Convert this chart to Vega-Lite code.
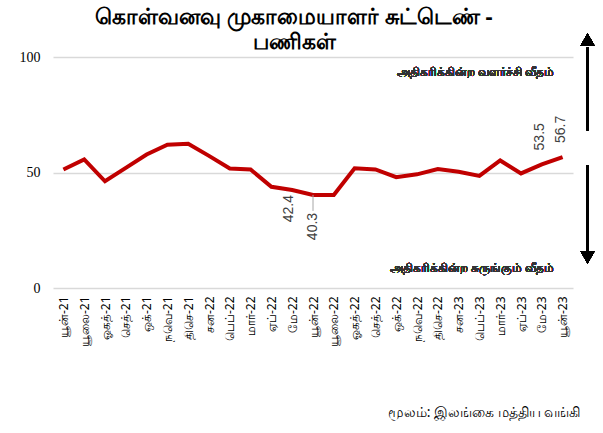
{
  "$schema": "https://vega.github.io/schema/vega-lite/v6.json",
  "width": 520,
  "height": 231,
  "autosize": "none",
  "padding": {"left": 53, "top": 57, "right": 30, "bottom": 145},
  "background": "white",
  "title": {
    "text": ["கொள்வனவு முகாமையாளர் சுட்டெண் -", "பணிகள்"],
    "fontSize": 22,
    "fontWeight": "bold",
    "font": "Noto Sans",
    "color": "black",
    "anchor": "middle",
    "dx": -19,
    "dy": 26,
    "offset": 6,
    "lineHeight": 25
  },
  "config": {
    "view": {"stroke": null},
    "font": "Noto Sans"
  },
  "data": {
    "values": [
      {"month": "யூன்-21", "value": 51.3},
      {"month": "யூலை-21", "value": 55.7},
      {"month": "ஓகத்-21", "value": 46.2},
      {"month": "செத்-21", "value": 52.0},
      {"month": "ஒக்-21", "value": 57.8},
      {"month": "நவெ-21", "value": 62.0},
      {"month": "திசெ-21", "value": 62.4},
      {"month": "சன-22", "value": 57.2},
      {"month": "பெப்-22", "value": 51.7},
      {"month": "மார்-22", "value": 51.3},
      {"month": "ஏப்-22", "value": 43.8},
      {"month": "மே-22", "value": 42.4},
      {"month": "யூன்-22", "value": 40.3},
      {"month": "யூலை-22", "value": 40.3},
      {"month": "ஓகத்-22", "value": 51.8},
      {"month": "செத்-22", "value": 51.3},
      {"month": "ஒக்-22", "value": 48.0},
      {"month": "நவெ-22", "value": 49.2},
      {"month": "திசெ-22", "value": 51.5},
      {"month": "சன-23", "value": 50.3},
      {"month": "பெப்-23", "value": 48.5},
      {"month": "மார்-23", "value": 55.2},
      {"month": "ஏப்-23", "value": 49.6},
      {"month": "மே-23", "value": 53.5},
      {"month": "யூன்-23", "value": 56.7}
    ]
  },
  "resolve": {"scale": {"x": "independent"}},
  "layer": [
    {
      "encoding": {
        "x": {
          "field": "month",
          "type": "ordinal",
          "sort": null,
          "scale": {"type": "point", "padding": 0.5},
          "axis": {
            "title": "மூலம்: இலங்கை மத்திய வங்கி",
            "titleFont": "Noto Sans",
            "titleFontSize": 14,
            "titleFontWeight": "normal",
            "titleColor": "black",
            "titleAnchor": "end",
            "titleAlign": "right",
            "titleBaseline": "middle",
            "titleX": 527,
            "titleY": 124,
            "labelAngle": 270,
            "labelFontSize": 12,
            "labelColor": "black",
            "labelPadding": 8,
            "labelFont": "Noto Sans",
            "ticks": false,
            "domain": false,
            "grid": false
          }
        },
        "y": {
          "field": "value",
          "type": "quantitative",
          "scale": {"domain": [0, 100], "nice": false},
          "axis": {
            "title": null,
            "values": [0, 50, 100],
            "labelFont": "Liberation Serif",
            "labelFontSize": 14,
            "labelColor": "black",
            "labelPadding": 13,
            "ticks": false,
            "domain": false,
            "gridColor": "#d9d9d9",
            "gridWidth": 1.5
          }
        }
      },
      "layer": [
        {
          "mark": {"type": "line", "color": "#C00000", "strokeWidth": 4}
        },
        {
          "transform": [{"filter": {"field": "month", "equal": "யூன்-22"}}],
          "mark": {"type": "rule", "color": "#a6a6a6", "strokeWidth": 1, "y2Offset": 16},
          "encoding": {"y2": {"field": "value"}}
        },
        {
          "transform": [{"filter": {"field": "month", "equal": "மே-22"}}],
          "mark": {"type": "text", "angle": 270, "align": "right", "baseline": "middle", "dx": -5, "dy": -3, "fontSize": 14, "font": "Liberation Sans", "color": "#404040"},
          "encoding": {"text": {"field": "value", "format": ".1f"}}
        },
        {
          "transform": [{"filter": {"field": "month", "equal": "யூன்-22"}}],
          "mark": {"type": "text", "angle": 270, "align": "right", "baseline": "middle", "dx": -18, "dy": 0, "fontSize": 14, "font": "Liberation Sans", "color": "#404040"},
          "encoding": {"text": {"field": "value", "format": ".1f"}}
        },
        {
          "transform": [{"filter": {"field": "month", "oneOf": ["மே-23", "யூன்-23"]}}],
          "mark": {"type": "text", "angle": 270, "align": "left", "baseline": "middle", "dx": 14, "dy": -2, "fontSize": 14, "font": "Liberation Sans", "color": "#404040"},
          "encoding": {"text": {"field": "value", "format": ".1f"}}
        }
      ]
    },
    {
      "encoding": {
        "x": {"datum": 25.7, "type": "quantitative", "scale": {"domain": [0, 25], "nice": false, "zero": false}, "axis": null}
      },
      "layer": [
        {
          "mark": {"type": "rule", "color": "black", "strokeWidth": 2},
          "encoding": {
            "y": {"datum": 68.3, "type": "quantitative", "scale": {"domain": [0, 100], "nice": false}},
            "y2": {"datum": 104}
          }
        },
        {
          "mark": {"type": "point", "shape": "triangle-up", "filled": true, "color": "black", "size": 200, "opacity": 1},
          "encoding": {
            "y": {"datum": 107.5, "type": "quantitative", "scale": {"domain": [0, 100], "nice": false}}
          }
        },
        {
          "mark": {"type": "rule", "color": "black", "strokeWidth": 2},
          "encoding": {
            "y": {"datum": 53.1, "type": "quantitative", "scale": {"domain": [0, 100], "nice": false}},
            "y2": {"datum": 16}
          }
        },
        {
          "mark": {"type": "point", "shape": "triangle-down", "filled": true, "color": "black", "size": 200, "opacity": 1},
          "encoding": {
            "y": {"datum": 13.3, "type": "quantitative", "scale": {"domain": [0, 100], "nice": false}}
          }
        },
        {
          "mark": {"type": "text", "align": "right", "baseline": "middle", "fontSize": 12, "font": "Noto Sans", "color": "#333333"},
          "encoding": {
            "x": {"datum": 24.1, "type": "quantitative"},
            "y": {"datum": 93.5, "type": "quantitative", "scale": {"domain": [0, 100], "nice": false}},
            "text": {"value": "அதிகரிக்கின்ற வளர்ச்சி வீதம்"}
          }
        },
        {
          "mark": {"type": "text", "align": "right", "baseline": "middle", "fontSize": 12, "font": "Noto Sans", "color": "#333333"},
          "encoding": {
            "x": {"datum": 24.1, "type": "quantitative"},
            "y": {"datum": 8.5, "type": "quantitative", "scale": {"domain": [0, 100], "nice": false}},
            "text": {"value": "அதிகரிக்கின்ற சுருங்கும் வீதம்"}
          }
        }
      ]
    }
  ]
}
